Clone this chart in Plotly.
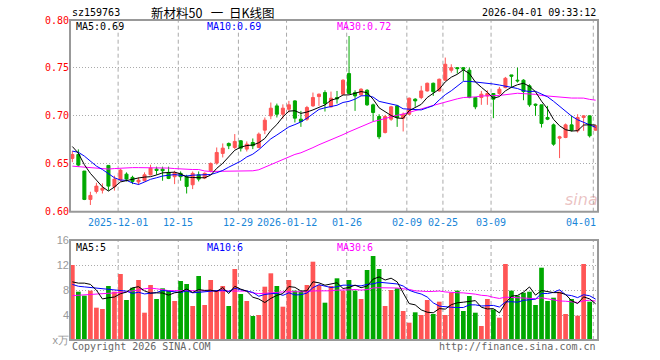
import plotly.graph_objects as go

# ---------------- data ----------------
dates = [
    "2025-11-19", "2025-11-20", "2025-11-21", "2025-11-24", "2025-11-25", "2025-11-26", "2025-11-27", "2025-11-28",
    "2025-12-01", "2025-12-02", "2025-12-03", "2025-12-04", "2025-12-05", "2025-12-08", "2025-12-09", "2025-12-10",
    "2025-12-11", "2025-12-12", "2025-12-15", "2025-12-16", "2025-12-17", "2025-12-18", "2025-12-19", "2025-12-22",
    "2025-12-23", "2025-12-24", "2025-12-25", "2025-12-26", "2025-12-29", "2025-12-30", "2025-12-31",
    "2026-01-05", "2026-01-06", "2026-01-07", "2026-01-08", "2026-01-09", "2026-01-12", "2026-01-13", "2026-01-14",
    "2026-01-15", "2026-01-16", "2026-01-19", "2026-01-20", "2026-01-21", "2026-01-22", "2026-01-23", "2026-01-26",
    "2026-01-27", "2026-01-28", "2026-01-29", "2026-01-30",
    "2026-02-02", "2026-02-03", "2026-02-04", "2026-02-05", "2026-02-06", "2026-02-09", "2026-02-10", "2026-02-11",
    "2026-02-12", "2026-02-13", "2026-02-24", "2026-02-25", "2026-02-26", "2026-02-27",
    "2026-03-02", "2026-03-03", "2026-03-04", "2026-03-05", "2026-03-06", "2026-03-09", "2026-03-10", "2026-03-11",
    "2026-03-12", "2026-03-13", "2026-03-16", "2026-03-17", "2026-03-18", "2026-03-19", "2026-03-20", "2026-03-23",
    "2026-03-24", "2026-03-25", "2026-03-26", "2026-03-27", "2026-03-30", "2026-03-31", "2026-04-01",
]

opens = [
    0.6556, 0.6597, 0.6424, 0.6128, 0.6212, 0.6225, 0.6483, 0.6260, 0.6330, 0.6392,
    0.6358, 0.6310, 0.6323, 0.6385, 0.6444, 0.6444, 0.6410, 0.6365, 0.6400, 0.6365,
    0.6281, 0.6385, 0.6351, 0.6427, 0.6507, 0.6608, 0.6712, 0.6670, 0.6740, 0.6653,
    0.6722, 0.6670, 0.6851, 0.7000, 0.7104, 0.7017, 0.7069, 0.7156, 0.6965, 0.6965,
    0.7104, 0.7201, 0.7243, 0.7094, 0.7191, 0.7226, 0.7441, 0.7243, 0.7219, 0.7267,
    0.7115, 0.6993, 0.6826, 0.6965, 0.7104, 0.6976, 0.7017, 0.7174, 0.7191, 0.7260,
    0.7340, 0.7260, 0.7372, 0.7476, 0.7503, 0.7503, 0.7476, 0.7191, 0.7191, 0.7208,
    0.7233, 0.7233, 0.7295, 0.7427, 0.7372, 0.7372, 0.7313, 0.7122, 0.7115, 0.6983,
    0.6906, 0.6767, 0.6774, 0.6906, 0.6844, 0.6983, 0.7000, 0.6851,
]
highs = [
    0.6632, 0.6650, 0.6424, 0.6208, 0.6302, 0.6295, 0.6486, 0.6375, 0.6445, 0.6410,
    0.6375, 0.6358, 0.6410, 0.6490, 0.6470, 0.6470, 0.6470, 0.6427, 0.6420, 0.6385,
    0.6420, 0.6420, 0.6410, 0.6514, 0.6670, 0.6712, 0.6722, 0.6810, 0.6747, 0.6733,
    0.6764, 0.6826, 0.6983, 0.7139, 0.7128, 0.7120, 0.7156, 0.7163, 0.7052, 0.7104,
    0.7243, 0.7233, 0.7267, 0.7253, 0.7260, 0.7382, 0.7833, 0.7267, 0.7288, 0.7278,
    0.7128, 0.7017, 0.7010, 0.7104, 0.7115, 0.7035, 0.7191, 0.7184, 0.7313, 0.7347,
    0.7347, 0.7389, 0.7608, 0.7538, 0.7503, 0.7510, 0.7503, 0.7198, 0.7260, 0.7267,
    0.7233, 0.7302, 0.7406, 0.7427, 0.7503, 0.7382, 0.7330, 0.7128, 0.7115, 0.7104,
    0.6920, 0.6792, 0.6920, 0.7000, 0.7017, 0.7000, 0.7000, 0.6906,
]
lows = [
    0.6517, 0.6470, 0.6121, 0.6070, 0.6190, 0.6190, 0.6220, 0.6220, 0.6316, 0.6316,
    0.6288, 0.6278, 0.6316, 0.6378, 0.6385, 0.6323, 0.6340, 0.6288, 0.6323, 0.6190,
    0.6236, 0.6316, 0.6340, 0.6410, 0.6490, 0.6566, 0.6653, 0.6653, 0.6628, 0.6628,
    0.6653, 0.6663, 0.6809, 0.6965, 0.6983, 0.6970, 0.7035, 0.6931, 0.6885, 0.6948,
    0.7094, 0.7104, 0.7045, 0.7087, 0.7128, 0.7219, 0.7226, 0.7052, 0.7208, 0.7104,
    0.6941, 0.6757, 0.6816, 0.6948, 0.6885, 0.6837, 0.7010, 0.7094, 0.7174, 0.7253,
    0.7208, 0.7253, 0.7365, 0.7451, 0.7441, 0.7365, 0.7184, 0.7069, 0.7115, 0.7115,
    0.6976, 0.7219, 0.7288, 0.7302, 0.7347, 0.7163, 0.7094, 0.7000, 0.6878, 0.6955,
    0.6688, 0.6559, 0.6767, 0.6837, 0.6826, 0.6844, 0.6774, 0.6844,
]
closes = [
    0.6597, 0.6486, 0.6128, 0.6170, 0.6267, 0.6245, 0.6267, 0.6340, 0.6434, 0.6340,
    0.6316, 0.6330, 0.6385, 0.6455, 0.6430, 0.6427, 0.6347, 0.6405, 0.6365, 0.6264,
    0.6400, 0.6340, 0.6400, 0.6503, 0.6618, 0.6663, 0.6688, 0.6733, 0.6663, 0.6705,
    0.6688, 0.6809, 0.6955, 0.7080, 0.7017, 0.7080, 0.7115, 0.6976, 0.6941, 0.7087,
    0.7191, 0.7226, 0.7128, 0.7184, 0.7177, 0.7372, 0.7233, 0.7208, 0.7278, 0.7115,
    0.7035, 0.6781, 0.6993, 0.7094, 0.6983, 0.7017, 0.7184, 0.7156, 0.7260, 0.7340,
    0.7253, 0.7382, 0.7538, 0.7503, 0.7493, 0.7486, 0.7191, 0.7094, 0.7226, 0.7233,
    0.7174, 0.7278, 0.7392, 0.7413, 0.7365, 0.7253, 0.7115, 0.7111, 0.6920, 0.6965,
    0.6705, 0.6781, 0.6906, 0.6851, 0.6983, 0.7000, 0.6792, 0.6896,
]
volumes = [  # 万
    12.0, 7.73, 7.1, 7.9, 5.17, 4.96, 8.64, 7.73, 10.56, 6.4,
    8.37, 9.6, 4.37, 8.8, 6.56, 8.27, 7.9, 6.24, 9.44, 8.96,
    5.44, 10.24, 5.6, 9.6, 7.9, 8.64, 5.44, 11.36, 7.36, 6.24,
    3.84, 4.0, 8.53, 10.67, 8.64, 5.33, 9.6, 7.9, 7.73, 8.8,
    12.53, 8.8, 5.97, 8.64, 9.87, 7.9, 9.6, 7.9, 6.56, 11.2,
    13.44, 11.36, 5.44, 8.0, 8.27, 4.64, 2.77, 4.43, 4.0, 6.4,
    4.16, 6.13, 4.0, 7.57, 7.9, 4.64, 7.04, 4.37, 2.24, 6.56,
    4.9, 3.57, 12.16, 7.9, 7.1, 7.57, 7.73, 5.6, 11.57, 6.24,
    6.77, 7.73, 4.16, 6.56, 3.89, 12.16, 6.13, 0.16,
]

# moving-average values before enough history is on screen
ma5_head = [0.668, 0.661, 0.649, 0.640]
ma10_head = [0.6632, 0.662, 0.658, 0.653, 0.6476, 0.644, 0.640, 0.6354, 0.633]
ma30_head = [0.6475, 0.647, 0.6465, 0.6455, 0.645, 0.6445, 0.6445, 0.645, 0.6455, 0.646,
             0.646, 0.646, 0.646, 0.646, 0.646, 0.646, 0.6455, 0.645, 0.6445, 0.644,
             0.644, 0.644, 0.6425, 0.642, 0.642, 0.642, 0.642, 0.642, 0.642]
vma5_head = [9.3, 9.1, 9.1, 8.9]
vma10_head = [8.9, 8.6, 8.5, 8.4, 8.3, 8.1, 8.0, 7.9, 7.9]
vma30_head = [7.1, 7.15, 7.2, 7.25, 7.3, 7.35, 7.4, 7.5, 7.6, 7.7,
              7.8, 8.0, 8.2, 8.3, 8.2, 8.0, 7.9, 7.9, 7.9, 7.9,
              7.9, 7.9, 7.9, 7.9, 7.9, 7.8, 7.8, 7.8, 7.8]

tick_dates = ["2025-12-01", "2025-12-15", "2025-12-29", "2026-01-12", "2026-01-26",
              "2026-02-09", "2026-02-25", "2026-03-09", "2026-04-01"]
tick_labels = ["2025-12-01", "12-15", "12-29", "2026-01-12", "01-26",
               "02-09", "02-25", "03-09", "04-01"]

code = "sz159763"
title_text = "新材料50&nbsp;&nbsp; 一&nbsp; 日K线图"
stamp = "2026-04-01 09:33:12"


def moving_avg(vals, n, head):
    out = list(head)
    for i in range(len(head), len(vals)):
        w = vals[i - n + 1:i + 1]
        out.append(sum(w) / len(w))
    return out


ma5 = moving_avg(closes, 5, ma5_head)
ma10 = moving_avg(closes, 10, ma10_head)
ma30 = moving_avg(closes, 30, ma30_head)
vma5 = moving_avg(volumes, 5, vma5_head)
vma10 = moving_avg(volumes, 10, vma10_head)
vma30 = moving_avg(volumes, 30, vma30_head)

# ---------------- style ----------------
RED = "#ff5555"
GREEN = "#00a800"
BLACK = "#000000"
BLUE = "#0000ff"
MAGENTA = "#ff00ff"
GRID = "#aaaaaa"
BORDER = "#999999"
XLAB = "#1a86d8"
MONO = "DejaVu Sans Mono, Liberation Mono, monospace"

W, H = 660, 360
L, R, T, B = 70, 62, 20, 20
PW, PH = W - L - R, H - T - B


def px(x):
    return (x - L) / PW


def py(y):
    return (H - B - y) / PH


vol_colors = [RED if c >= o else GREEN for o, c in zip(opens, closes)]

fig = go.Figure()
fig.add_trace(go.Candlestick(
    x=dates, open=opens, high=highs, low=lows, close=closes,
    increasing=dict(line=dict(color=RED, width=1), fillcolor=RED),
    decreasing=dict(line=dict(color=GREEN, width=1), fillcolor=GREEN),
    whiskerwidth=0, xaxis="x", yaxis="y", showlegend=False, hoverinfo="skip"))
for vals, col in [(ma30, MAGENTA), (ma10, BLUE), (ma5, BLACK)]:
    fig.add_trace(go.Scatter(x=dates, y=vals, mode="lines", line=dict(color=col, width=1),
                             xaxis="x", yaxis="y", showlegend=False, hoverinfo="skip"))
fig.add_trace(go.Bar(x=dates, y=volumes, marker=dict(color=vol_colors, line=dict(width=0)),
                     xaxis="x", yaxis="y2", showlegend=False, hoverinfo="skip"))
for vals, col in [(vma30, MAGENTA), (vma10, BLUE), (vma5, BLACK)]:
    fig.add_trace(go.Scatter(x=dates, y=vals, mode="lines", line=dict(color=col, width=1),
                             xaxis="x", yaxis="y2", showlegend=False, hoverinfo="skip"))

OFF = 0.39  # grid lines sit at the left edge of the candle body
n = len(dates)
shapes = []
for d in tick_dates:
    xi = dates.index(d) - OFF
    for yr in ["y domain", "y2 domain"]:
        shapes.append(dict(type="line", xref="x", yref=yr, x0=xi, x1=xi, y0=0, y1=1,
                           line=dict(color=GRID, width=1, dash="4px,3px"), layer="below"))
for yr in ["y domain", "y2 domain"]:
    shapes.append(dict(type="rect", xref="x domain", yref=yr, x0=0, x1=1, y0=0, y1=1,
                       line=dict(color=BORDER, width=2), layer="above"))

ann = []


def text(x, y, s, color, size=10, anchor="left", family=MONO, xref="paper", italic=False):
    ann.append(dict(x=x, y=y, xref=xref, yref="paper", text=s, showarrow=False,
                    xanchor=anchor, yanchor="middle",
                    font=dict(family=family, size=size, color=color,
                              style="italic" if italic else "normal")))


text(px(70), py(12), code, BLACK)
text(px(149), py(12), title_text, BLACK, size=12.5, anchor="left",
     family="Noto Sans CJK SC, sans-serif")
text(px(597.5), py(12), stamp, BLACK, anchor="right")
text(px(74), py(26.5), "MA5:%.2f" % ma5[-1], BLACK)
text(px(204.5), py(26.5), "MA10:%.2f" % ma10[-1], BLUE)
text(px(334.5), py(26.5), "MA30:%.2f" % ma30[-1], MAGENTA)
text(px(74), py(247), "MA5:5", BLACK)
text(px(204.5), py(247), "MA10:6", BLUE)
text(px(334.5), py(247), "MA30:6", MAGENTA)
text(px(70), py(346), "Copyright 2026 SINA.COM", "#666666")
text(px(597.5), py(346), "http://finance.sina.com.cn", "#666666", anchor="right")
text(px(581), py(199), "sina", "rgba(210,120,120,0.45)", size=16, anchor="center",
     family="DejaVu Sans, sans-serif", italic=True)
for d, lab in zip(tick_dates, tick_labels):
    xi = dates.index(d) - OFF
    if d == dates[-1]:
        text(1.0, py(222), lab, XLAB, anchor="right")
    else:
        text(xi, py(222), lab, XLAB, anchor="center", xref="x")

fig.update_layout(
    width=W, height=H, margin=dict(l=L, r=R, t=T, b=B, autoexpand=False),
    paper_bgcolor="white", plot_bgcolor="white",
    hovermode=False, showlegend=False, boxgap=0.28, bargap=0.22,
    xaxis=dict(type="category", range=[-OFF, n - 1 + OFF], showgrid=False, zeroline=False,
               showticklabels=False, ticks="", showline=False, anchor="y", automargin=False,
               rangeslider=dict(visible=False), fixedrange=True),
    yaxis=dict(domain=[(H - B - 211.7) / PH, 1.0], range=[0.60, 0.80], anchor="x",
               automargin=False,
               tickvals=[0.60, 0.65, 0.70, 0.75, 0.80],
               ticktext=["0.60", "0.65", "0.70", "0.75", "0.80"],
               tickfont=dict(family=MONO, size=10, color="#ff0000"),
               showgrid=True, gridcolor=GRID, gridwidth=1, griddash="1px,2px",
               zeroline=False, showline=False, ticks="", fixedrange=True),
    yaxis2=dict(domain=[0.0, 100 / PH], range=[0, 16], anchor="x", automargin=False,
                tickvals=[0, 4, 8, 12, 16], ticktext=["x万", "4", "8", "12", "16"],
                tickfont=dict(family="Liberation Sans, Arial, sans-serif", size=11, color="#999999"),
                showgrid=True, gridcolor=GRID, gridwidth=1, griddash="1px,2px",
                zeroline=False, showline=False, ticks="", fixedrange=True),
    shapes=shapes, annotations=ann,
)

fig.write_html("out.html", config={"displayModeBar": False},
               post_script="document.body.style.margin='0';document.body.style.overflow='hidden';")
